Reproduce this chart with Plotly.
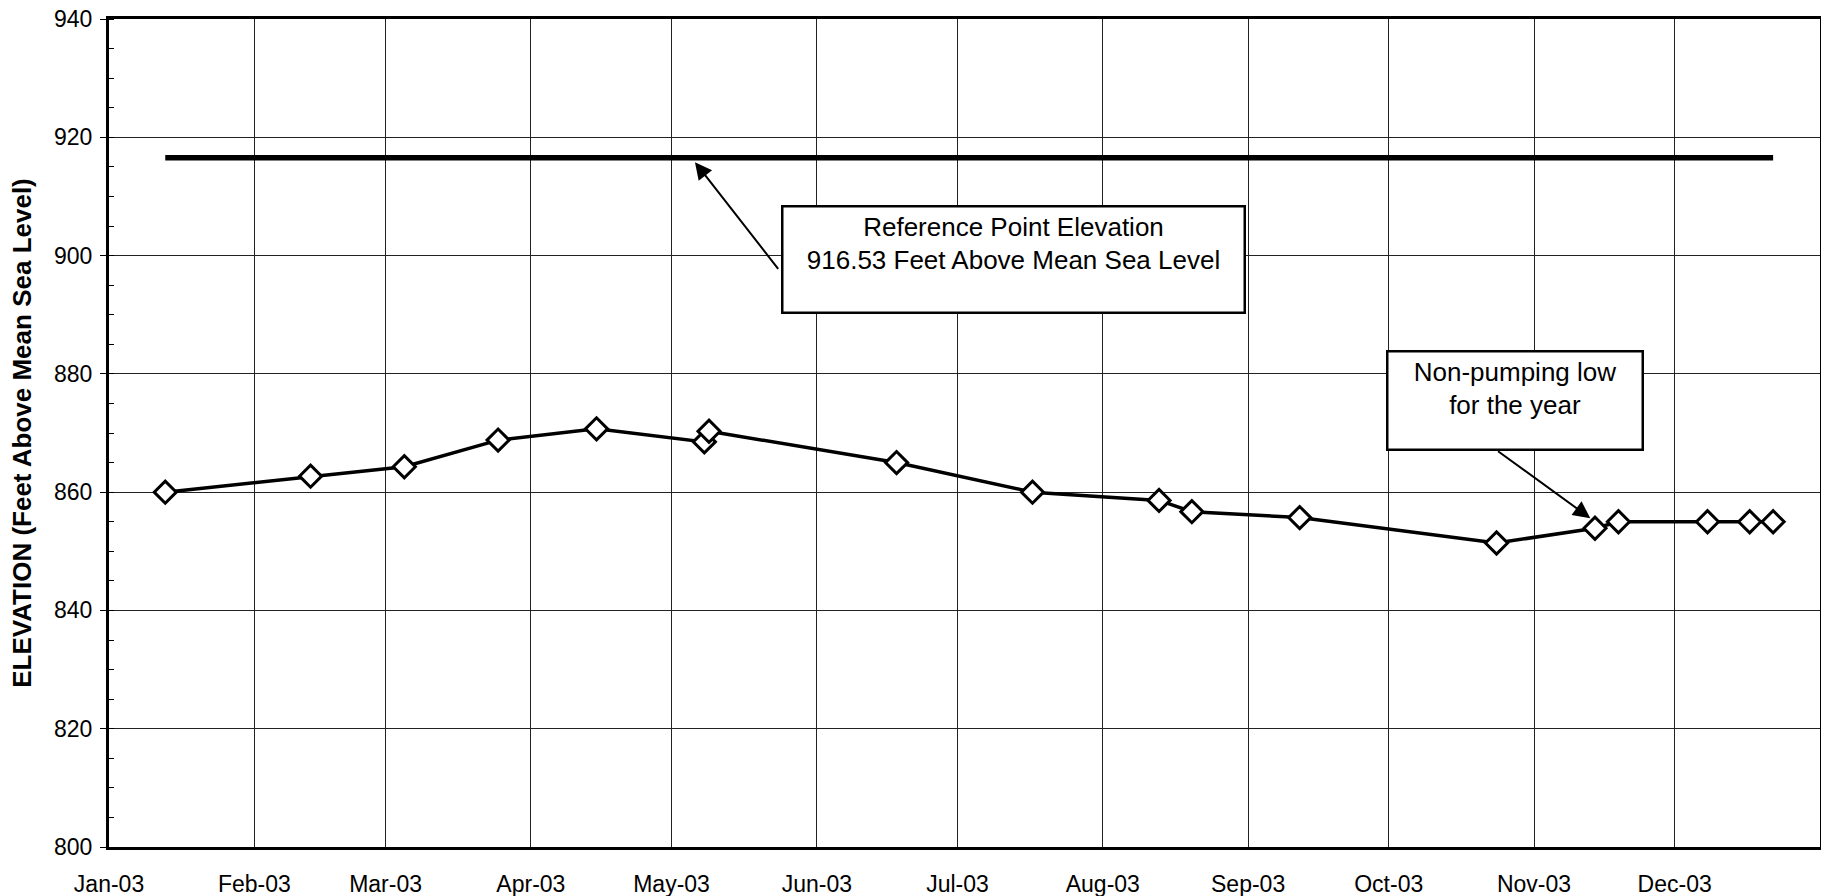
import plotly.graph_objects as go

# ---- data ----
dates = ["2003-01-13", "2003-02-13", "2003-03-05", "2003-03-25", "2003-04-15",
         "2003-05-08", "2003-05-09", "2003-06-18", "2003-07-17", "2003-08-13",
         "2003-08-20", "2003-09-12", "2003-10-24", "2003-11-14", "2003-11-19",
         "2003-12-08", "2003-12-17", "2003-12-22"]
elevation = [860.0, 862.7, 864.3, 868.8, 870.7, 868.5, 870.3, 865.0, 860.0,
             858.6, 856.7, 855.7, 851.4, 853.9, 855.0, 855.0, 855.0, 855.0]

ref_dates = ["2003-01-13", "2003-12-22"]
ref_elevation = [916.53, 916.53]

month_ticks = ["2003-01-01", "2003-02-01", "2003-03-01", "2003-04-01", "2003-05-01",
               "2003-06-01", "2003-07-01", "2003-08-01", "2003-09-01", "2003-10-01",
               "2003-11-01", "2003-12-01"]
month_labels = ["Jan-03", "Feb-03", "Mar-03", "Apr-03", "May-03", "Jun-03",
                "Jul-03", "Aug-03", "Sep-03", "Oct-03", "Nov-03", "Dec-03"]
y_ticks = [800, 820, 840, 860, 880, 900, 920, 940]

FONT = "Liberation Sans, Arial, sans-serif"

fig = go.Figure()
fig.add_trace(go.Scatter(x=ref_dates, y=ref_elevation, mode="lines",
                         line=dict(color="black", width=5.5), showlegend=False,
                         hoverinfo="skip"))
fig.add_trace(go.Scatter(x=dates, y=elevation, mode="lines+markers",
                         line=dict(color="black", width=3.5),
                         marker=dict(symbol="diamond", size=17, color="white",
                                     line=dict(color="black", width=3)),
                         showlegend=False))

# Text boxes
fig.add_annotation(x="2003-07-13", y=899.4, xref="x", yref="y",
                   text="Reference Point Elevation<br>916.53 Feet Above Mean Sea Level<br> ",
                   showarrow=False, font=dict(family=FONT, size=26, color="black"),
                   bgcolor="white", bordercolor="black", borderwidth=2.5, borderpad=4,
                   width=452, height=96, valign="top", align="center")
fig.add_annotation(x="2003-10-28", y=875.5, xref="x", yref="y",
                   text="Non-pumping low<br>for the year",
                   showarrow=False, font=dict(family=FONT, size=26, color="black"),
                   bgcolor="white", bordercolor="black", borderwidth=2.5, borderpad=4,
                   width=245, height=88, valign="top", align="center")

# Arrows
fig.add_annotation(x="2003-05-06", y=915.8, ax="2003-05-24", ay=897.5,
                   xref="x", yref="y", axref="x", ayref="y", text="",
                   showarrow=True, arrowhead=2, arrowsize=1.7, arrowwidth=2,
                   arrowcolor="black")
fig.add_annotation(x="2003-11-13", y=855.6, ax="2003-10-24", ay=867.1,
                   xref="x", yref="y", axref="x", ayref="y", text="",
                   showarrow=True, arrowhead=2, arrowsize=1.7, arrowwidth=2,
                   arrowcolor="black")

fig.update_xaxes(range=["2003-01-01", "2004-01-01"], tickvals=month_ticks,
                 ticktext=month_labels, showgrid=True, gridcolor="#222",
                 gridwidth=1, showline=True, linecolor="black", linewidth=3,
                 mirror=True, ticks="", zeroline=False, automargin=False,
                 ticklabelstandoff=14,
                 tickfont=dict(family=FONT, size=23, color="black"))
fig.update_yaxes(range=[800, 940], tickvals=y_ticks, showgrid=True,
                 gridcolor="#222", gridwidth=1, showline=True, linecolor="black",
                 linewidth=3, mirror=True, ticks="outside", ticklen=6,
                 tickcolor="black", zeroline=False, automargin=False,
                 ticklabelstandoff=3,
                 minor=dict(dtick=5, ticks="inside", ticklen=5, tickcolor="black",
                            showgrid=False),
                 tickfont=dict(family=FONT, size=23, color="black"),
                 title=dict(text="<b>ELEVATION (Feet Above Mean Sea Level)</b>",
                            font=dict(family=FONT, size=26, color="black"),
                            standoff=15))

fig.update_layout(width=1821, height=896, plot_bgcolor="white",
                  paper_bgcolor="white",
                  margin=dict(l=109, r=1, t=19, b=49))

fig.write_html("out.html", config={"displayModeBar": False},
               post_script="document.body.style.margin='0';"
                           "document.body.style.overflow='hidden';")
